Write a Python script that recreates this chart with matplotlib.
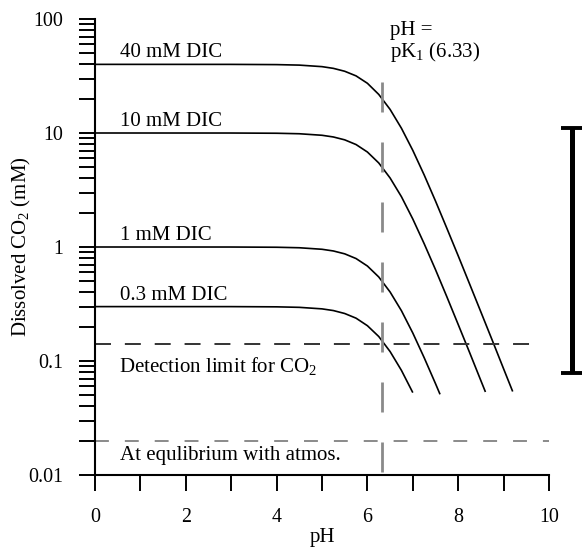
import matplotlib
matplotlib.use('Agg')
import matplotlib.pyplot as plt

plt.rcParams['font.family'] = ['Liberation Serif', 'DejaVu Serif']
plt.rcParams['mathtext.fontset'] = 'custom'
plt.rcParams['mathtext.rm'] = 'Liberation Serif'
plt.rcParams['mathtext.it'] = 'Liberation Serif:italic'
plt.rcParams['lines.scale_dashes'] = False

# dissolved CO2 (mM), one list per DIC level
ph_40 = [0, 3, 4, 4.5, 5, 5.25, 5.5, 5.75, 6, 6.25, 6.5, 6.75, 7, 7.25, 7.5, 7.75, 8, 8.25, 8.5, 8.75, 9, 9.2]
co2_40 = [40, 39.98, 39.8, 39.4, 38.2, 36.9, 34.8, 31.7, 27.3, 21.8, 16.1, 11.0, 7.04, 4.29, 2.53, 1.46,
          0.837, 0.475, 0.269, 0.152, 0.0854, 0.054]
ph_10 = [0, 3, 4, 4.5, 5, 5.25, 5.5, 5.75, 6, 6.25, 6.5, 6.75, 7, 7.25, 7.5, 7.75, 8, 8.25, 8.5, 8.6]
co2_10 = [10, 9.995, 9.95, 9.85, 9.55, 9.23, 8.71, 7.92, 6.81, 5.46, 4.03, 2.76, 1.76, 1.07, 0.633, 0.366,
          0.209, 0.119, 0.0672, 0.0535]
ph_1 = [0, 3, 4, 4.5, 5, 5.25, 5.5, 5.75, 6, 6.25, 6.5, 6.75, 7, 7.25, 7.5, 7.6]
co2_1 = [1.0, 0.9995, 0.995, 0.985, 0.955, 0.923, 0.871, 0.792, 0.681, 0.546, 0.403, 0.276, 0.176, 0.107,
         0.0633, 0.051]
ph_03 = [0, 3, 4, 4.5, 5, 5.25, 5.5, 5.75, 6, 6.25, 6.5, 6.75, 7.0]
co2_03 = [0.3, 0.2999, 0.2986, 0.2956, 0.2866, 0.277, 0.261, 0.2375, 0.204, 0.164, 0.121, 0.0827, 0.0528]

curves = [(ph_40, co2_40, '40 mM DIC'), (ph_10, co2_10, '10 mM DIC'),
          (ph_1, co2_1, '1 mM DIC'), (ph_03, co2_03, '0.3 mM DIC')]

pk1 = 6.33
pk1_top = 28
detection_limit = 0.14
atmos_level = 0.02
bracket_x = 10.51
bracket_top = 11.0
bracket_bottom = 0.0785

fig = plt.figure(figsize=(5.82, 5.5), dpi=100)
ax = fig.add_axes([95 / 582, 75 / 550, 454 / 582, 456 / 550])

for ph, co2, name in curves:
    ax.plot(ph, co2, color='black', lw=1.2, solid_capstyle='butt')
    ax.annotate(name, xy=(0.55, co2[0]), xytext=(0, 5), textcoords='offset points',
                fontsize=15, ha='left', va='baseline')

# reference lines
ax.plot([0, 9.63], [detection_limit, detection_limit], color='#333333', lw=1.4,
        linestyle=(0, (11.5, 10)))
ax.plot([0, 10], [atmos_level, atmos_level], color='#8a8a8a', lw=1.4,
        linestyle=(0, (10, 11.5)))
ax.plot([pk1, pk1], [pk1_top, 0.01], color='#8a8a8a', lw=2.0,
        linestyle=(0, (21.6, 21.6)), clip_on=False)

ax.text(0.53, 0.0801, 'Detection limit for CO$_2$', fontsize=15, ha='left', va='baseline')
ax.text(0.55, 0.01354, 'At equlibrium with atmos.', fontsize=15, ha='left', va='baseline')
ax.text(6.5, 73, 'pH =', fontsize=15, ha='left', va='baseline')
ax.text(6.5, 46, 'pK$_1$ (6.33)', fontsize=15, ha='left', va='baseline')

# bracket on the right
ax.plot([bracket_x, bracket_x], [bracket_top, bracket_bottom], color='black', lw=3.6,
        clip_on=False, solid_capstyle='butt')
for yy in (bracket_top, bracket_bottom):
    ax.plot([bracket_x - 0.25, bracket_x + 0.25], [yy, yy], color='black', lw=2.8,
            clip_on=False, solid_capstyle='butt')

ax.set_yscale('log')
ax.set_xlim(0, 10)
ax.set_ylim(0.01, 100)
ax.set_xticks([0, 2, 4, 6, 8, 10])
ax.set_xticks([1, 3, 5, 7, 9], minor=True)
ax.set_yticks([0.01, 0.1, 1, 10, 100])
ax.set_yticklabels(['0.01', '0.1', '1', '10', '100'])

for s in ['top', 'right']:
    ax.spines[s].set_visible(False)
for s in ['left', 'bottom']:
    ax.spines[s].set_linewidth(1.5)

ax.tick_params(axis='both', which='both', direction='out', length=11.5, width=1.4,
               labelsize=14.4, pad=12)
ax.tick_params(axis='y', pad=11.5)
ax.set_xlabel('pH', fontsize=15, labelpad=1)
ax.set_ylabel('Dissolved CO$_2$ (mM)', fontsize=15)
ax.yaxis.set_label_coords(-0.137, 0.5)

fig.savefig('out.png', dpi=100)
